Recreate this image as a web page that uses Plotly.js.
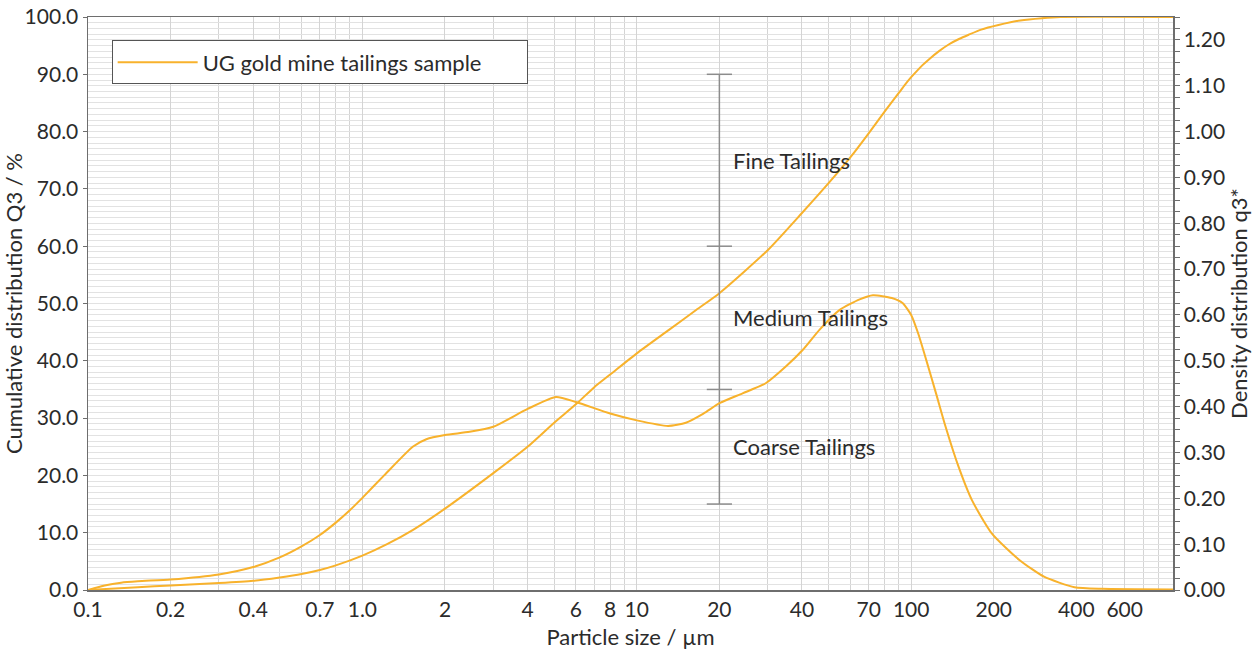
<!DOCTYPE html>
<html>
<head>
<meta charset="utf-8">
<script src="https://cdn.plot.ly/plotly-3.0.1.min.js"></script>
<style>
  html, body { margin: 0; padding: 0; background: #ffffff; }
  #chart { width: 1260px; height: 655px; }
</style>
</head>
<body>
<div id="chart"></div>
<script>
// Particle size (µm) and cumulative distribution Q3 (%)
const cumSize = [0.1, 0.152, 0.2, 0.3, 0.4, 0.5, 0.6, 0.7, 0.8, 1.0, 1.23, 1.53, 2.0, 3.0, 4.0, 5.0, 6.0, 7.0, 8.0, 10, 13.1, 16.5, 20, 30, 40, 50, 60, 70, 80, 90, 95, 100, 105, 110, 116, 126, 137, 150, 162, 180, 208, 250, 300, 350, 900];
const cumQ3 = [0, 0.5, 0.8, 1.2, 1.6, 2.2, 2.8, 3.5, 4.3, 6.0, 8.0, 10.5, 14.2, 20.4, 25.0, 29.2, 32.4, 35.4, 37.6, 41.3, 45.4, 48.9, 51.8, 59.3, 65.8, 71.0, 75.5, 79.7, 83.5, 86.7, 88.2, 89.5, 90.6, 91.6, 92.6, 94.0, 95.2, 96.2, 96.9, 97.8, 98.6, 99.4, 99.8, 100, 100];

// Particle size (µm) and density distribution q3*
const denSize = [0.1, 0.115, 0.132, 0.152, 0.2, 0.3, 0.4, 0.5, 0.6, 0.7, 0.8, 0.9, 1.0, 1.2, 1.53, 1.71, 2.0, 2.46, 3.0, 4.0, 5.08, 6.0, 8.0, 10, 13, 15.1, 17.5, 20.1, 24.3, 29.5, 35, 40.3, 46.4, 54.9, 64.9, 72.6, 85, 93, 100, 106, 113.6, 123.2, 133.5, 148.8, 166.5, 197, 248.6, 305, 394, 497, 900];
const denQ3 = [0, 0.010, 0.016, 0.019, 0.023, 0.034, 0.050, 0.071, 0.095, 0.120, 0.147, 0.174, 0.201, 0.250, 0.313, 0.329, 0.338, 0.345, 0.356, 0.395, 0.421, 0.410, 0.385, 0.370, 0.358, 0.365, 0.385, 0.408, 0.429, 0.451, 0.488, 0.524, 0.568, 0.611, 0.634, 0.643, 0.637, 0.626, 0.600, 0.560, 0.501, 0.429, 0.356, 0.269, 0.196, 0.123, 0.065, 0.029, 0.006, 0.0025, 0.001];

// Tailings class boundaries (cumulative %) drawn at 20 µm
const classSize = 20;
const classBounds = [15, 35, 60, 90];
const classNames = ["Coarse Tailings", "Medium Tailings", "Fine Tailings"];
const classMid = [25, 47.5, 75];

// Axis tick labels
const xTickVals = [0.1, 0.2, 0.4, 0.7, 1, 2, 4, 6, 8, 10, 20, 40, 70, 100, 200, 400, 600];
const xTickText = ["0.1", "0.2", "0.4", "0.7", "1.0", "2", "4", "6", "8", "10", "20", "40", "70", "100", "200", "400", "600"];

const seriesName = "UG gold mine tailings sample";
const lineColor = "#F8B22C";
const FONT = "Lato, 'Open Sans', sans-serif";
const textColor = "#2b2b2b";
const TICK_SIZE = 21;
const TEXT_SIZE = 22;

// minor vertical grid positions (1..9 per decade)
const minorX = [];
[0.1, 1, 10, 100].forEach(d => { for (let k = 1; k <= 9; k++) { const v = d * k; if (v <= 900) minorX.push(v); } });

const traces = [
  {
    x: cumSize, y: cumQ3, type: "scatter", mode: "lines", name: seriesName,
    line: { color: lineColor, width: 2, shape: "spline", smoothing: 0.6 },
    yaxis: "y", showlegend: true, hoverinfo: "x+y"
  },
  {
    x: denSize, y: denQ3, type: "scatter", mode: "lines", name: seriesName + " q3*",
    line: { color: lineColor, width: 2, shape: "spline", smoothing: 0.6 },
    yaxis: "y2", showlegend: false
  },
  {
    x: classBounds.map(() => classSize), y: classBounds, type: "scatter", mode: "lines+markers",
    line: { color: "#8c8c8c", width: 1.5 },
    marker: { symbol: "line-ew", size: 18, line: { color: "#8c8c8c", width: 1.5 } },
    yaxis: "y", showlegend: false, hoverinfo: "skip"
  }
];

const annotations = classNames.map((t, i) => ({
  x: Math.log10(classSize), y: classMid[i], xref: "x", yref: "y",
  text: t, showarrow: false, xanchor: "left", yanchor: "middle", xshift: 12,
  font: { family: FONT, size: TEXT_SIZE, color: textColor }
}));

const layout = {
  width: 1260, height: 655,
  margin: { l: 88, r: 87, t: 17, b: 65, pad: 0 },
  paper_bgcolor: "#ffffff", plot_bgcolor: "#ffffff",
  font: { family: FONT, size: TEXT_SIZE, color: textColor },
  showlegend: true,
  legend: {
    x: 0.0218, y: 0.959, xanchor: "left", yanchor: "top",
    orientation: "h", entrywidth: 319, entrywidthmode: "pixels",
    bgcolor: "#ffffff", bordercolor: "#555555", borderwidth: 1,
    itemwidth: 80, font: { family: FONT, size: TEXT_SIZE, color: textColor }
  },
  xaxis: {
    type: "log", range: [-1, Math.log10(900)],
    tickmode: "array", tickvals: xTickVals, ticktext: xTickText,
    ticks: "", showgrid: true, gridcolor: "#d4d4d4", gridwidth: 1,
    minor: { tickmode: "array", tickvals: minorX, showgrid: true, gridcolor: "#d4d4d4", ticks: "" },
    showline: true, linecolor: "#6e6e6e", linewidth: 1.5, mirror: true,
    zeroline: false, automargin: false,
    title: { text: "Particle size / µm", font: { family: FONT, size: TEXT_SIZE, color: textColor }, standoff: 10 },
    tickfont: { family: FONT, size: TICK_SIZE, color: textColor }
  },
  yaxis: {
    range: [0, 100], dtick: 10, tick0: 0, tickformat: ".1f",
    ticks: "outside", ticklen: 4, tickcolor: "#6e6e6e",
    showgrid: true, gridcolor: "#e2e2e2", gridwidth: 1,
    minor: { dtick: 1, showgrid: true, gridcolor: "#e2e2e2", ticks: "" },
    showline: true, linecolor: "#6e6e6e", linewidth: 1.5,
    zeroline: false, automargin: false,
    title: { text: "Cumulative distribution Q3 / %", font: { family: FONT, size: TEXT_SIZE, color: textColor }, standoff: 6 },
    tickfont: { family: FONT, size: TICK_SIZE, color: textColor }
  },
  yaxis2: {
    overlaying: "y", side: "right", anchor: "x",
    range: [0, 1.25], dtick: 0.1, tick0: 0, tickformat: ".2f",
    ticks: "outside", ticklen: 5, tickcolor: "#6e6e6e",
    minor: { dtick: 0.025, ticks: "outside", ticklen: 5, tickcolor: "#6e6e6e", showgrid: false },
    showgrid: false, showline: true, linecolor: "#6e6e6e", linewidth: 1.5,
    zeroline: false, automargin: false,
    title: { text: "Density distribution q3*", font: { family: FONT, size: TEXT_SIZE, color: textColor }, standoff: 6 },
    tickfont: { family: FONT, size: TICK_SIZE, color: textColor }
  },
  annotations: annotations
};

Plotly.newPlot("chart", traces, layout, { displayModeBar: false, staticPlot: true });
</script>
</body>
</html>
